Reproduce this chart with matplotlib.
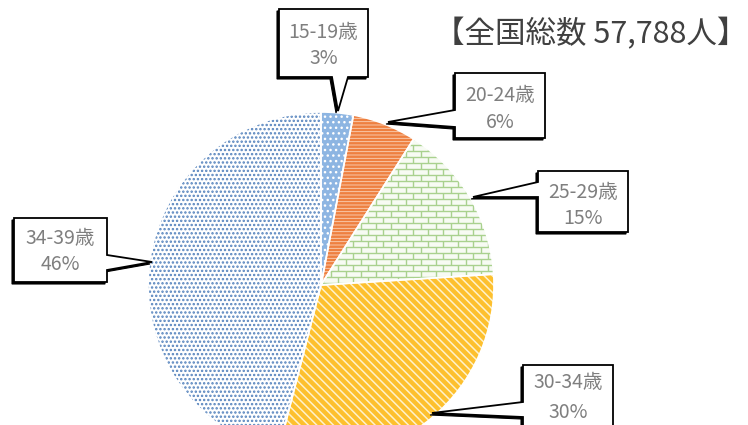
import matplotlib
matplotlib.use('Agg')
import matplotlib.pyplot as plt
from matplotlib.patches import Wedge, Polygon
from matplotlib.collections import LineCollection
import numpy as np

plt.rcParams['font.family'] = ['Noto Sans CJK JP', 'DejaVu Sans']

categories = ['15-19歳', '20-24歳', '25-29歳', '30-34歳', '34-39歳']
percents = [3, 6, 15, 30, 46]
pct_labels = ['3%', '6%', '15%', '30%', '46%']
title = '【全国総数 57,788人】'

W, H = 748, 425
fig = plt.figure(figsize=(W / 100, H / 100), dpi=100)
ax = fig.add_axes([0, 0, 1, 1])


def Y(y):
    return H - y


cx, cy, r = 321, Y(285), 173
wedges, _ = ax.pie(percents, startangle=90, counterclock=False,
                   center=(cx, cy), radius=r,
                   wedgeprops=dict(linewidth=0))
ax.set_xlim(0, W)
ax.set_ylim(0, H)
ax.set_aspect('equal')
ax.axis('off')

faces = ['#8db5e2', '#ee8040', '#f7fbf3', '#fdc02e', '#ffffff']
hatches = ['...', '-----', None, '\\\\\\\\', '....']
hcolors = ['#ffffff', '#fbd3b8', None, '#fff2cc', '#5583bd']
hlws = [1.0, 0.6, None, 1.1, 1.15]

for i, w in enumerate(wedges):
    w.set_facecolor(faces[i])
    if hatches[i]:
        with plt.rc_context({'hatch.linewidth': hlws[i]}):
            hp = Wedge(w.center, w.r, w.theta1, w.theta2, facecolor='none',
                       edgecolor=hcolors[i], linewidth=0, hatch=hatches[i], zorder=2)
        ax.add_patch(hp)

# brick texture for 25-29
bw = wedges[2]
segs = []
rowh, brick = 6.0, 15.0
y = cy - 40
row = 0
while y < cy + r + 10:
    segs.append([(cx - 5, y), (cx + r + 10, y)])
    off = (row % 2) * brick / 2
    x = cx - 5 + off
    while x < cx + r + 10:
        segs.append([(x, y), (x, y + rowh)])
        x += brick
    y += rowh
    row += 1
lc = LineCollection(segs, colors='#a9d18e', linewidths=1.0, zorder=2)
ax.add_collection(lc)
lc.set_clip_path(bw)

for w in wedges:
    ax.add_patch(Wedge(w.center, w.r, w.theta1, w.theta2, facecolor='none',
                       edgecolor='white', linewidth=1.2, zorder=3))


def callout(box, side, b0, b1, tip, lab, pct, ty1, ty2):
    x0, y0, x1, y1 = box
    if side == 'bottom':
        pts = [(x0, y0), (x1, y0), (x1, y1), (b1, y1), tip, (b0, y1), (x0, y1)]
    elif side == 'left':
        pts = [(x0, y0), (x1, y0), (x1, y1), (x0, y1), (x0, b1), tip, (x0, b0)]
    else:
        pts = [(x0, y0), (x1, y0), (x1, b0), tip, (x1, b1), (x1, y1), (x0, y1)]
    pts = [(x, Y(yy)) for x, yy in pts]
    shadow = [(x - 2, yy - 2) for x, yy in pts]
    ax.add_patch(Polygon(shadow, closed=True, fc='black', ec='black', lw=0.8, zorder=5))
    ax.add_patch(Polygon(pts, closed=True, fc='white', ec='black', lw=1.3, zorder=6))
    xc = (x0 + x1) / 2
    ax.text(xc, Y(ty1), lab, ha='center', va='center', fontsize=14,
            color='#7f7f7f', zorder=7)
    ax.text(xc, Y(ty2), pct, ha='center', va='center', fontsize=14,
            color='#7f7f7f', zorder=7)


callout((279, 9, 368, 77), 'bottom', 332, 348, (338, 111), categories[0], pct_labels[0], 32, 58)
callout((455, 73, 545, 138), 'left', 110, 127, (388, 122), categories[1], pct_labels[1], 95, 122)
callout((538, 171, 628, 232), 'left', 182, 197, (473, 197), categories[2], pct_labels[2], 192, 218)
callout((523, 365, 613, 445), 'left', 402, 417, (432, 413), categories[3], pct_labels[3], 383, 412)
callout((14, 218, 107, 282), 'right', 255, 270, (152, 262), categories[4], pct_labels[4], 238, 265)

ax.text(591, Y(34), title, ha='center', va='center', fontsize=22, color='#404040')

fig.savefig('out.png', dpi=100)
